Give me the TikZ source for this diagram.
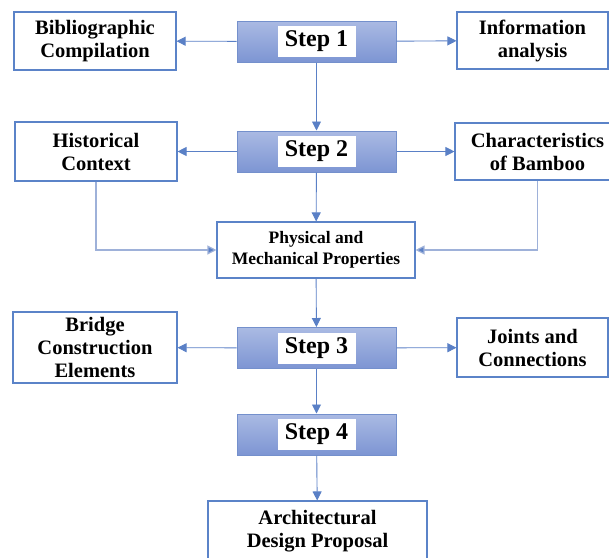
\documentclass[tikz,border=0pt]{standalone}
\usepackage{fontspec}
\setmainfont{Liberation Serif}
\usetikzlibrary{arrows.meta}
\definecolor{lineblue}{HTML}{5A80C6}
\definecolor{paleblue}{HTML}{9EB1D9}
\definecolor{boxblue}{HTML}{5B83C8}
\definecolor{steptop}{HTML}{AABAE3}
\definecolor{stepbot}{HTML}{7D95D3}
\definecolor{stepline}{HTML}{7490CC}
\begin{document}
\begin{tikzpicture}[x=1pt,y=-1pt,
    stepbox/.style={draw=stepline,line width=1pt,top color=steptop,bottom color=stepbot,
      minimum width=159pt,minimum height=41pt,inner sep=0pt},
    steplabel/.style={fill=white,inner sep=0pt,minimum width=78pt,minimum height=31pt,
      font=\fontsize{24}{26}\selectfont\bfseries},
    infobox/.style={draw=boxblue,line width=1.1pt,fill=white,align=center,inner sep=0pt,
      font=\fontsize{20.5}{23}\selectfont\bfseries},
    arr/.style={draw=lineblue,line width=0.9pt,-{Triangle[width=9pt,length=9pt]}},
    feed/.style={draw=paleblue,line width=1.2pt,-{Triangle[width=9pt,length=9pt,fill=lineblue]}}]
    \useasboundingbox (0,0) rectangle (609,557);
    % main steps
    \node[stepbox] (s1) at (316.5,41.5) {};
    \node[steplabel] (s1t) at (s1) {Step 1};
    \node[stepbox] (s2) at (316.5,151.5) {};
    \node[steplabel] (s2t) at (s2) {Step 2};
    \node[stepbox] (s3) at (316.5,348) {};
    \node[steplabel] (s3t) at (s3) {Step 3};
    \node[stepbox] (s4) at (316.5,434.5) {};
    \node[steplabel] (s4t) at (s4) {Step 4};
    % side boxes
    \node[infobox,minimum width=162pt,minimum height=58pt] (biblio) at (95,41) {Bibliographic\\Compilation};
    \node[infobox,minimum width=151pt,minimum height=57pt] (info) at (532.5,40.5) {Information\\analysis};
    \node[infobox,minimum width=162pt,minimum height=59pt] (hist) at (96,151.5) {Historical\\Context};
    \node[infobox,minimum width=165pt,minimum height=57pt] (charac) at (537.5,151.5) {Characteristics\\of Bamboo};
    \node[infobox,minimum width=198pt,minimum height=56pt,
      font=\fontsize{17.5}{21}\selectfont\bfseries] (phys) at (316,250) {Physical and\\Mechanical Properties};
    \node[infobox,minimum width=164pt,minimum height=71pt] (bridge) at (95,347.5) {Bridge\\Construction\\Elements};
    \node[infobox,minimum width=151pt,minimum height=59pt] (joint) at (532.5,347.5) {Joints and\\Connections};
    \node[infobox,minimum width=219pt,minimum height=61pt] (arch) at (317.5,531.5) {Architectural\\Design Proposal};
    % connectors
    \draw[arr] (s1) -- (biblio);
    \draw[arr] (s1) -- (info);
    \draw[arr] (s1) -- (s2);
    \draw[arr] (s2) -- (hist);
    \draw[arr] (s2) -- (charac);
    \draw[arr] (s2) -- (phys);
    \draw[feed] (hist.south) |- (phys.west);
    \draw[feed] (charac.south) |- (phys.east);
    \draw[arr] (phys) -- (s3);
    \draw[arr] (s3) -- (bridge);
    \draw[arr] (s3) -- (joint);
    \draw[arr] (s3) -- (s4);
    \draw[arr] (s4) -- (arch);
\end{tikzpicture}
\end{document}
